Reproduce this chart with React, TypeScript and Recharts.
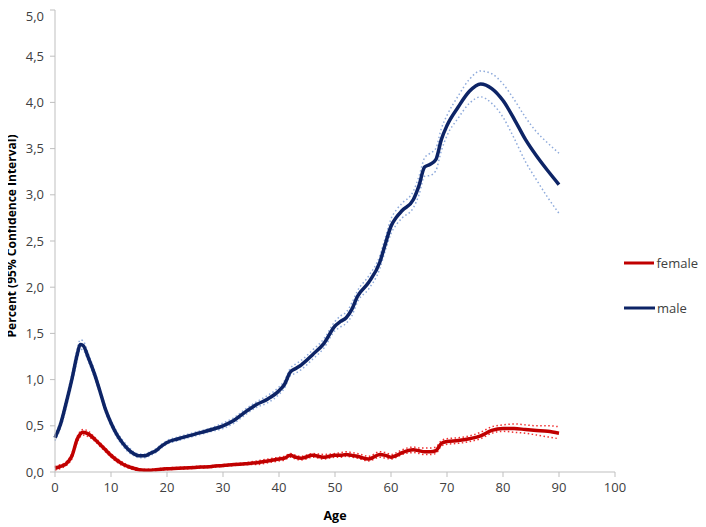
import React from 'react';
import { LineChart, Line, XAxis, YAxis } from 'recharts';

const ages = [0, 1, 2, 3, 4, 4.5, 5, 6, 7, 8, 9, 10, 11, 12, 13, 14, 15, 16, 17, 18, 19, 20, 22, 25, 28, 30, 32, 34, 36, 38, 40, 41, 42, 43, 44, 46, 48, 50, 51, 52, 53, 54, 56, 58, 59, 60, 61, 62, 64, 65, 66, 67, 68, 69, 70, 72, 74, 76, 78, 80, 82, 84, 86, 88, 90];

const male = [0.37, 0.52, 0.75, 1.0, 1.28, 1.38, 1.37, 1.23, 1.07, 0.88, 0.68, 0.53, 0.41, 0.32, 0.25, 0.2, 0.175, 0.175, 0.2, 0.23, 0.28, 0.32, 0.36, 0.41, 0.46, 0.5, 0.56, 0.65, 0.73, 0.79, 0.88, 0.95, 1.08, 1.12, 1.16, 1.27, 1.39, 1.58, 1.63, 1.67, 1.76, 1.9, 2.05, 2.27, 2.47, 2.66, 2.76, 2.83, 2.95, 3.1, 3.3, 3.33, 3.38, 3.6, 3.75, 3.95, 4.12, 4.2, 4.15, 4.02, 3.82, 3.6, 3.42, 3.26, 3.11];
const maleHi = [0.4, 0.56, 0.8, 1.05, 1.34, 1.43, 1.42, 1.27, 1.11, 0.91, 0.71, 0.56, 0.44, 0.35, 0.28, 0.22, 0.195, 0.195, 0.22, 0.25, 0.3, 0.34, 0.38, 0.43, 0.48, 0.53, 0.59, 0.68, 0.76, 0.83, 0.92, 0.99, 1.12, 1.17, 1.21, 1.32, 1.44, 1.63, 1.69, 1.73, 1.83, 1.96, 2.12, 2.34, 2.54, 2.74, 2.84, 2.91, 3.04, 3.2, 3.4, 3.45, 3.5, 3.72, 3.86, 4.07, 4.25, 4.34, 4.31, 4.2, 4.03, 3.84, 3.68, 3.56, 3.45];
const maleLo = [0.34, 0.48, 0.7, 0.95, 1.22, 1.33, 1.32, 1.19, 1.03, 0.85, 0.65, 0.5, 0.38, 0.29, 0.22, 0.18, 0.155, 0.155, 0.18, 0.21, 0.26, 0.3, 0.34, 0.39, 0.44, 0.47, 0.53, 0.62, 0.7, 0.75, 0.84, 0.91, 1.04, 1.07, 1.11, 1.22, 1.34, 1.53, 1.57, 1.61, 1.69, 1.84, 1.98, 2.2, 2.4, 2.58, 2.68, 2.75, 2.86, 3.0, 3.2, 3.21, 3.26, 3.48, 3.64, 3.83, 3.99, 4.06, 3.99, 3.84, 3.61, 3.36, 3.16, 2.97, 2.8];

const female = [0.04, 0.06, 0.09, 0.17, 0.36, 0.41, 0.43, 0.41, 0.36, 0.3, 0.24, 0.18, 0.13, 0.09, 0.06, 0.04, 0.025, 0.02, 0.02, 0.025, 0.03, 0.035, 0.04, 0.05, 0.06, 0.07, 0.08, 0.09, 0.1, 0.12, 0.14, 0.15, 0.18, 0.16, 0.15, 0.18, 0.16, 0.18, 0.18, 0.19, 0.18, 0.17, 0.14, 0.19, 0.18, 0.16, 0.18, 0.21, 0.24, 0.23, 0.22, 0.22, 0.23, 0.31, 0.33, 0.34, 0.36, 0.39, 0.45, 0.47, 0.47, 0.46, 0.45, 0.44, 0.42];
const femaleHi = [0.06, 0.08, 0.11, 0.2, 0.39, 0.44, 0.46, 0.44, 0.38, 0.32, 0.26, 0.2, 0.15, 0.11, 0.075, 0.055, 0.035, 0.03, 0.03, 0.035, 0.04, 0.045, 0.05, 0.06, 0.07, 0.08, 0.09, 0.1, 0.12, 0.14, 0.16, 0.17, 0.2, 0.18, 0.17, 0.2, 0.19, 0.2, 0.21, 0.22, 0.21, 0.2, 0.17, 0.22, 0.21, 0.19, 0.21, 0.24, 0.27, 0.26, 0.26, 0.26, 0.27, 0.34, 0.36, 0.37, 0.39, 0.43, 0.49, 0.51, 0.52, 0.51, 0.5, 0.5, 0.49];
const femaleLo = [0.02, 0.04, 0.07, 0.14, 0.33, 0.38, 0.4, 0.38, 0.34, 0.28, 0.22, 0.16, 0.11, 0.07, 0.045, 0.025, 0.015, 0.01, 0.01, 0.015, 0.02, 0.025, 0.03, 0.04, 0.05, 0.06, 0.07, 0.08, 0.08, 0.1, 0.12, 0.13, 0.16, 0.14, 0.13, 0.16, 0.14, 0.16, 0.16, 0.17, 0.16, 0.15, 0.12, 0.16, 0.15, 0.14, 0.16, 0.19, 0.21, 0.2, 0.19, 0.19, 0.2, 0.28, 0.3, 0.31, 0.33, 0.36, 0.42, 0.44, 0.43, 0.42, 0.4, 0.38, 0.36];

const xTicks = [0, 10, 20, 30, 40, 50, 60, 70, 80, 90, 100];
const yTicks = [0, 0.5, 1, 1.5, 2, 2.5, 3, 3.5, 4, 4.5, 5];
const legendItems = [
  { label: 'female', color: '#c00000' },
  { label: 'male', color: '#0d2466' },
];

const data = ages.map((a, i) => ({
  age: a,
  male: male[i],
  maleHi: maleHi[i],
  maleLo: maleLo[i],
  female: female[i],
  femaleHi: femaleHi[i],
  femaleLo: femaleLo[i],
}));

const FONT = '"Open Sans", "Liberation Sans", sans-serif';
const AXIS = '#bfbfbf';
const TXT = '#404040';

const LegendBox = () => (
  <div style={{ position: 'absolute', left: 624, top: 245, width: 74, fontFamily: FONT, fontSize: 13, color: TXT }}>
    {legendItems.map((it, i) => (
      <div key={it.label} style={{ display: 'flex', alignItems: 'center', height: 20, marginTop: i === 0 ? 0 : 25 }}>
        <svg width={31} height={6} style={{ marginRight: 2 }}>
          <line x1={0} y1={3} x2={31} y2={3} stroke={it.color} strokeWidth={3} />
        </svg>
        <span>{it.label}</span>
      </div>
    ))}
  </div>
);

export default function App() {
  return (
    <div style={{ position: 'relative', width: 698, height: 519, marginLeft: -8 }}>
      <LineChart width={698} height={519} data={data} margin={{ top: 2, right: 83, bottom: 8, left: 0 }}>
        <XAxis
          dataKey="age"
          type="number"
          domain={[0, 100]}
          ticks={xTicks}
          height={47}
          stroke={AXIS}
          tickSize={5}
          tickMargin={6}
          tick={{ fill: TXT, fontSize: 13, fontFamily: FONT }}
          label={{
            content: () => (
              <text x={335} y={507} textAnchor="middle" dominantBaseline="central" fontFamily={FONT} fontSize={12.5} fontWeight="bold" fill="#000">
                Age
              </text>
            ),
          }}
        />
        <YAxis
          type="number"
          domain={[0, 5]}
          ticks={yTicks}
          width={55}
          stroke={AXIS}
          tickSize={5}
          tickMargin={6}
          tick={{ fill: TXT, fontSize: 13, fontFamily: FONT }}
          tickFormatter={(v: number) => v.toFixed(1).replace('.', ',')}
          label={{
            content: () => (
              <text x={11} y={228} transform="rotate(-90 11 228)" textAnchor="middle" dominantBaseline="central" fontFamily={FONT} fontSize={12} fontWeight="bold" fill="#000">
                Percent (95% Confidence Interval)
              </text>
            ),
          }}
        />
        <Line dataKey="maleHi" type="monotone" stroke="#8eaadb" strokeWidth={1.5} strokeDasharray="1.5 2.5" dot={false} isAnimationActive={false} legendType="none" />
        <Line dataKey="maleLo" type="monotone" stroke="#8eaadb" strokeWidth={1.5} strokeDasharray="1.5 2.5" dot={false} isAnimationActive={false} legendType="none" />
        <Line dataKey="male" type="monotone" stroke="#0d2466" strokeWidth={3.5} dot={false} isAnimationActive={false} />
        <Line dataKey="femaleHi" type="monotone" stroke="#f03030" strokeWidth={1.5} strokeDasharray="1.5 2.5" dot={false} isAnimationActive={false} legendType="none" />
        <Line dataKey="femaleLo" type="monotone" stroke="#f03030" strokeWidth={1.5} strokeDasharray="1.5 2.5" dot={false} isAnimationActive={false} legendType="none" />
        <Line dataKey="female" type="monotone" stroke="#c00000" strokeWidth={3.5} dot={false} isAnimationActive={false} />
      </LineChart>
      <LegendBox />
    </div>
  );
}
